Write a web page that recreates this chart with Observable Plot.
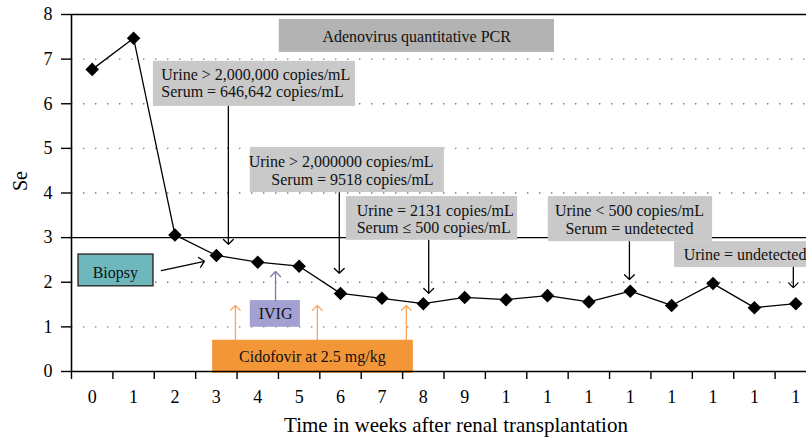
<!DOCTYPE html>
<html><head><meta charset="utf-8">
<script src="https://cdn.jsdelivr.net/npm/d3@7"></script>
<script src="https://cdn.jsdelivr.net/npm/@observablehq/plot@0.6"></script>
<style>html,body{margin:0;padding:0;overflow:hidden;background:#fff}</style>
</head><body><div id="chart"></div>
<script>
// Data
const weeks = [0,1,2,3,4,5,6,7,8,9,10,11,12,13,14,15,16,17];
const tickLabels = ["0","1","2","3","4","5","6","7","8","9","1","1","1","1","1","1","1","1"];
const seValues = [6.77,7.47,3.06,2.60,2.45,2.36,1.75,1.64,1.52,1.66,1.61,1.70,1.56,1.80,1.48,1.97,1.43,1.52];
const yTicks = [0,1,2,3,4,5,6,7,8];
const dottedGrid = [1,2,4,5,6,7];
const solidGrid = [3,8];
const bandEdges = [-0.5,0.5,1.5,2.5,3.5,4.5,5.5,6.5,7.5,8.5,9.5,10.5,11.5,12.5,13.5,14.5,15.5,16.5,17.5];

// Annotations (data coordinates)
const boxes = [
  {x1:4.52, x2:11.17, y1:7.15, y2:7.89, fill:"#b3b3b3", stroke:"none"},
  {x1:1.48, x2:6.36, y1:5.94, y2:6.95, fill:"#c9c9c9", stroke:"none"},
  {x1:3.82, x2:8.51, y1:4.01, y2:5.02, fill:"#c9c9c9", stroke:"none"},
  {x1:6.14, x2:10.28, y1:2.94, y2:3.92, fill:"#c9c9c9", stroke:"none"},
  {x1:11.02, x2:14.99, y1:2.91, y2:3.92, fill:"#c9c9c9", stroke:"none"},
  {x1:14.07, x2:18.0, y1:2.33, y2:2.91, fill:"#c9c9c9", stroke:"none"},
  {x1:-0.33, x2:1.48, y1:1.91, y2:2.62, fill:"#6eb8bd", stroke:"#333"},
  {x1:3.82, x2:5.03, y1:0.99, y2:1.59, fill:"#a3a1d2", stroke:"none"},
  {x1:2.91, x2:7.76, y1:-0.04, y2:0.70, fill:"#f39638", stroke:"none"}
];
const arrows = [
  {x1:3.29, y1:5.94, x2:3.29, y2:2.85, stroke:"#000"},
  {x1:5.97, y1:4.01, x2:5.97, y2:2.20, stroke:"#000"},
  {x1:8.13, y1:2.94, x2:8.13, y2:1.75, stroke:"#000"},
  {x1:12.98, y1:2.91, x2:12.98, y2:2.06, stroke:"#000"},
  {x1:16.94, y1:2.33, x2:16.94, y2:1.88, stroke:"#000"},
  {x1:1.67, y1:2.26, x2:2.71, y2:2.47, stroke:"#000"},
  {x1:4.43, y1:1.59, x2:4.43, y2:2.24, stroke:"#7a78b5"},
  {x1:3.46, y1:0.70, x2:3.46, y2:1.48, stroke:"#f7a55a"},
  {x1:5.44, y1:0.70, x2:5.44, y2:1.48, stroke:"#f7a55a"},
  {x1:7.59, y1:0.70, x2:7.59, y2:1.48, stroke:"#f7a55a"}
];
const notes = [
  {x:7.84, y:7.52, text:"Adenovirus quantitative PCR", anchor:"middle"},
  {x:1.67, y:6.47, text:"Urine > 2,000,000 copies/mL\nSerum = 646,642 copies/mL", anchor:"start"},
  {x:8.25, y:4.51, text:"Urine > 2,000000 copies/mL\nSerum = 9518 copies/mL", anchor:"end"},
  {x:6.39, y:3.42, text:"Urine = 2131 copies/mL\nSerum ≤ 500 copies/mL", anchor:"start"},
  {x:12.98, y:3.41, text:"Urine < 500 copies/mL\nSerum = undetected", anchor:"middle"},
  {x:14.29, y:2.62, text:"Urine = undetected", anchor:"start"},
  {x:0.56, y:2.22, text:"Biopsy", anchor:"middle"},
  {x:4.43, y:1.30, text:"IVIG", anchor:"middle"},
  {x:5.32, y:0.34, text:"Cidofovir at 2.5 mg/kg", anchor:"middle"}
];

const table = weeks.map((w, i) => ({week: w, se: seValues[i]}));
const noteMark = a => Plot.text(notes.filter(d => d.anchor === a), {
  x: "x", y: "y", text: "text", textAnchor: a, lineAnchor: "middle",
  lineHeight: 1.1, fontSize: 16, fill: "#111"
});

const chart = Plot.plot({
  width: 816, height: 438,
  marginLeft: 71, marginRight: 0, marginTop: 14, marginBottom: 67,
  style: {fontFamily: "'Liberation Serif', 'DejaVu Serif', serif", fontSize: "17px", background: "#fff", overflow: "visible", maxWidth: "none"},
  x: {domain: [-0.5, 17.5]},
  y: {domain: [0, 8]},
  color: {type: "identity"},
  marks: [
    Plot.ruleY(dottedGrid, {stroke: "#777", strokeWidth: 1.4, strokeDasharray: "1.4,10.6"}),
    Plot.ruleY(solidGrid, {stroke: "#000", strokeWidth: 1.4}),
    Plot.rect(boxes, {x1: "x1", x2: "x2", y1: "y1", y2: "y2", fill: "fill", stroke: "stroke", strokeWidth: 1.5}),
    Plot.arrow(arrows, {x1: "x1", y1: "y1", x2: "x2", y2: "y2", stroke: "stroke", strokeWidth: 1.3, headLength: 8, headAngle: 90}),
    Plot.line(table, {x: "week", y: "se", stroke: "#000", strokeWidth: 1.3}),
    Plot.dot(table, {x: "week", y: "se", symbol: "diamond2", r: 6.1, fill: "#000", stroke: "none"}),
    noteMark("middle"), noteMark("start"), noteMark("end"),
    Plot.axisY(yTicks, {tickSize: 10, tickPadding: 9, label: null, fontSize: 18, stroke: "#000", strokeWidth: 1.4}),
    Plot.ruleX([-0.5], {stroke: "#000", strokeWidth: 1.6}),
    Plot.ruleY([0], {stroke: "#000", strokeWidth: 1.6}),
    Plot.axisX(bandEdges, {tickSize: 8, tickFormat: () => "", label: null, stroke: "#000", strokeWidth: 1.4}),
    Plot.axisX(weeks, {tickSize: 0, tickPadding: 19, tickFormat: i => tickLabels[i], label: null, fontSize: 18}),
    Plot.text(["Se"], {frameAnchor: "left", dx: -51, dy: -2, rotate: -90, fontSize: 20}),
    Plot.text(["Time in weeks after renal transplantation"], {frameAnchor: "bottom", dx: 12, dy: 54, lineAnchor: "middle", fontSize: 21})
  ]
});
chart.style.maxWidth = "none";
chart.style.height = "438px";
document.getElementById("chart").append(chart);
</script></body></html>
